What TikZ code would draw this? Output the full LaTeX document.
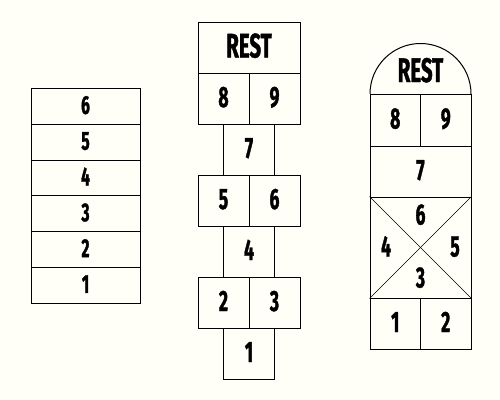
\documentclass[tikz,border=0pt]{standalone}
\usepackage{fontspec}
\newfontfamily\hfont[FakeStretch=0.6,BoldFeatures={FakeBold=1.2}]{Fira Sans}
\definecolor{bg}{RGB}{255,255,248}
\begin{document}
\begin{tikzpicture}[x=0.75pt,y=-0.75pt,
  cell/.style={draw=black, line width=0.75pt, inner sep=0pt, font=\hfont\bfseries\fontsize{22}{24}\selectfont, text height=12.75pt, text depth=0pt},
  lcell/.style={cell, minimum width=109*0.75pt, minimum height=35.8*0.75pt, font=\hfont\bfseries\fontsize{19.5}{21}\selectfont, text height=11.25pt},
  wcell/.style={cell, minimum width=51*0.75pt, minimum height=51*0.75pt},
  rest/.style={font=\hfont\bfseries\fontsize{25.5}{27}\selectfont, text height=15pt, text depth=0pt, inner sep=0pt},
  lbl/.style={inner sep=0pt, font=\hfont\bfseries\fontsize{22}{24}\selectfont, text height=12.75pt, text depth=0pt}]
\fill[bg] (0,0) rectangle (500,400);
\useasboundingbox (0,0) rectangle (500,400);
% left column
\node[lcell] (l6) at (85.5,106.4) {6};
\node[lcell] (l5) at (85.5,142.2) {5};
\node[lcell] (l4) at (85.5,178.0) {4};
\node[lcell] (l3) at (85.5,213.8) {3};
\node[lcell] (l2) at (85.5,249.6) {2};
\node[lcell] (l1) at (85.5,285.4) {1};
% middle column
\node[cell, rest, draw, line width=0.75pt, minimum width=102*0.75pt, minimum height=51*0.75pt] (mrest) at (249,47.5) {REST};
\node[wcell] (m8) at (223.5,98.5) {8};
\node[wcell] (m9) at (274.5,98.5) {9};
\node[wcell] (m7) at (249,149.5) {7};
\node[wcell] (m5) at (223.5,200.5) {5};
\node[wcell] (m6) at (274.5,200.5) {6};
\node[wcell] (m4) at (249,251.5) {4};
\node[wcell] (m2) at (223.5,302.5) {2};
\node[wcell] (m3) at (274.5,302.5) {3};
\node[wcell] (m1) at (249,353.5) {1};
% right column
\draw[line width=0.75pt] (370,94) arc[start angle=180, end angle=360, radius=50.5];
\node[rest] (rrest) at (420.5,72) {REST};
\node[cell, minimum width=50.5*0.75pt, minimum height=52*0.75pt] (r8) at (395.25,120) {8};
\node[cell, minimum width=50.5*0.75pt, minimum height=52*0.75pt] (r9) at (445.75,120) {9};
\node[cell, minimum width=101*0.75pt, minimum height=51*0.75pt] (r7) at (420.5,171.5) {7};
\node[draw=black, line width=0.75pt, inner sep=0pt, minimum width=101*0.75pt, minimum height=101*0.75pt] (rx) at (420.5,247.5) {};
\draw[line width=0.5pt] (rx.north west) -- (rx.south east);
\draw[line width=0.5pt] (rx.north east) -- (rx.south west);
\node[lbl] (r6) at (420.5,216) {6};
\node[lbl] (r4) at (386,248) {4};
\node[lbl] (r5) at (455,248) {5};
\node[lbl] (r3) at (420.5,279) {3};
\node[cell, minimum width=50.5*0.75pt, minimum height=51*0.75pt] (r1) at (395.25,323.5) {1};
\node[cell, minimum width=50.5*0.75pt, minimum height=51*0.75pt] (r2) at (445.75,323.5) {2};
\end{tikzpicture}
\end{document}
